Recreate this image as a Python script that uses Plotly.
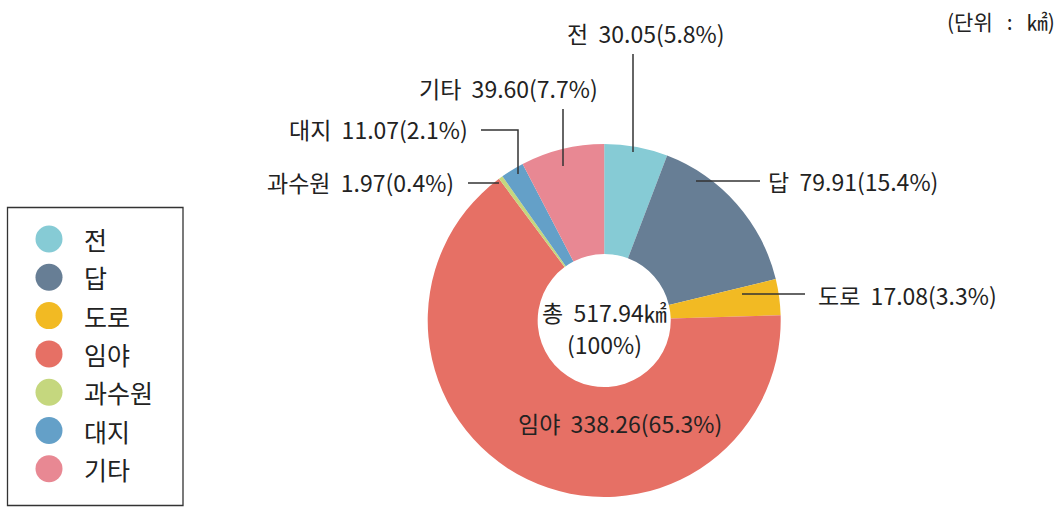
import math
import plotly.graph_objects as go

# ---- data ----
categories = ["전", "답", "도로", "임야", "과수원", "대지", "기타"]
values = [30.05, 79.91, 17.08, 338.26, 1.97, 11.07, 39.60]
percents = [5.8, 15.4, 3.3, 65.3, 0.4, 2.1, 7.7]
total_label = "총\u00a0 517.94㎢"
total_pct = "(100%)"
unit_label = "(단위\u00a0\u00a0 :\u00a0\u00a0 ㎢)"

# ---- styles ----
colors = ["#86CBD5", "#677E95", "#F2BA23", "#E67065", "#C5D77E", "#64A0C8", "#E88893"]
FONT = "Noto Sans CJK KR"
TXT = "#222222"
LINE = "#333333"
W, H = 1064, 507


def px(x):
    return x / W


def py(y):
    return 1 - y / H


CX, CY, R = 604.2, 320.5, 176.5

fig = go.Figure()
fig.add_trace(go.Pie(
    labels=categories,
    values=values,
    sort=False,
    direction="clockwise",
    rotation=0,
    hole=0.377,
    marker=dict(colors=colors, line=dict(width=0)),
    textinfo="none",
    hoverinfo="label+value+percent",
    showlegend=False,
    domain=dict(x=[px(CX - R), px(CX + R)], y=[py(CY + R), py(CY - R)]),
))

# label placement (pixel positions, layout only)
label_layout = {
    "전":   dict(x=645.5, y=33, anchor="center", path=[(633, 54), (633, 152)]),
    "답":   dict(x=766, y=181, anchor="left", path=[(696, 181), (760, 181)]),
    "도로": dict(x=816, y=295, anchor="left", path=[(742, 294), (805, 294)]),
    "임야": dict(x=620, y=423, anchor="center", path=None),
    "과수원": dict(x=456, y=182, anchor="right", path=[(468, 183), (499, 183)]),
    "대지": dict(x=470, y=129, anchor="right", path=[(481, 130), (518, 130), (518, 174)]),
    "기타": dict(x=508.5, y=88, anchor="center", path=[(563, 109), (563, 166)]),
}

annotations = []
shapes = []
for cat, val, pct in zip(categories, values, percents):
    lay = label_layout[cat]
    annotations.append(dict(
        x=px(lay["x"]), y=py(lay["y"]), xref="paper", yref="paper",
        text=f"{cat}\u00a0 {val:.2f}({pct}%)", showarrow=False,
        xanchor=lay["anchor"], yanchor="middle",
        font=dict(family=FONT, size=23, color=TXT),
    ))
    if lay["path"]:
        pts = lay["path"]
        d = "M " + " L ".join(f"{px(a)},{py(b)}" for a, b in pts)
        shapes.append(dict(type="path", xref="paper", yref="paper", path=d,
                           line=dict(color=LINE, width=1.5)))

# centre text
annotations.append(dict(x=px(604), y=py(312), xref="paper", yref="paper", text=total_label,
                        showarrow=False, xanchor="center", yanchor="middle",
                        font=dict(family=FONT, size=23, color=TXT)))
annotations.append(dict(x=px(604), y=py(344), xref="paper", yref="paper", text=total_pct,
                        showarrow=False, xanchor="center", yanchor="middle",
                        font=dict(family=FONT, size=23, color=TXT)))
# unit
annotations.append(dict(x=px(1057), y=py(21), xref="paper", yref="paper", text=unit_label,
                        showarrow=False, xanchor="right", yanchor="middle",
                        font=dict(family=FONT, size=21, color=TXT)))

# legend (manual)
shapes.append(dict(type="rect", xref="paper", yref="paper",
                   x0=px(7.5), x1=px(183), y0=py(505.5), y1=py(207.5),
                   line=dict(color="#333333", width=1.3), fillcolor="rgba(0,0,0,0)"))
for i, (cat, col) in enumerate(zip(categories, colors)):
    yc = 239 + i * 38.3
    rr = 13.5
    shapes.append(dict(type="circle", xref="paper", yref="paper",
                       x0=px(49 - rr), x1=px(49 + rr), y0=py(yc + rr), y1=py(yc - rr),
                       fillcolor=col, line=dict(width=0)))
    annotations.append(dict(x=px(82), y=py(yc), xref="paper", yref="paper", text=cat,
                            showarrow=False, xanchor="left", yanchor="middle",
                            font=dict(family=FONT, size=25, color=TXT)))

fig.update_layout(
    width=W, height=H, autosize=False,
    margin=dict(l=0, r=0, t=0, b=0),
    paper_bgcolor="white", plot_bgcolor="white",
    annotations=annotations, shapes=shapes,
    showlegend=False,
)

fig.write_html("out.html", config={"displayModeBar": False},
               post_script="document.body.style.margin='0px';document.body.style.padding='0px';")
